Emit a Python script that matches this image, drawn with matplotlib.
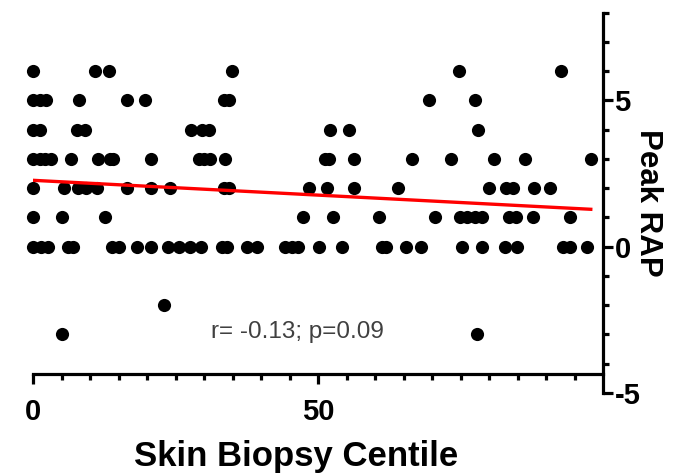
import numpy as np
import matplotlib
matplotlib.use("Agg")
import matplotlib.pyplot as plt
from matplotlib.ticker import FixedLocator

plt.rcParams['font.family'] = ['Liberation Sans', 'DejaVu Sans']
plt.rcParams['axes.unicode_minus'] = False

# points grouped by Peak RAP value (x = skin biopsy centile)
rap_6 = [0, 10.9, 13.2, 34.9, 74.6, 92.6]
rap_5 = [0, 1.2, 2.3, 8.1, 16.4, 19.6, 33.4, 34.4, 69.5, 77.4]
rap_4 = [0, 1.2, 7.6, 9.1, 27.7, 29.6, 30.8, 52.1, 55.3, 78.1]
rap_3 = [0, 1.2, 2.1, 3.1, 6.6, 11.3, 13.4, 14.0, 20.6, 29.0, 30.0, 31.0, 33.7,
         51.1, 51.8, 56.2, 66.4, 73.2, 80.9, 86.3, 97.8]
rap_2 = [0, 5.3, 7.9, 9.3, 11.2, 16.4, 20.6, 23.9, 33.4, 34.4, 48.3, 51.6, 56.2,
         64.0, 80.0, 83.0, 84.2, 87.8, 90.6]
rap_1 = [0, 5.0, 12.5, 47.4, 52.5, 60.6, 70.5, 74.8, 76.1, 77.5, 78.7, 83.4,
         84.6, 87.7, 94.1]
rap_0 = [0, 1.3, 2.6, 6.1, 7.0, 13.8, 15.0, 18.2, 20.6, 23.6, 25.5, 27.5, 29.4,
         33.1, 34.0, 37.5, 39.2, 44.2, 45.4, 46.5, 50.1, 54.2, 61.2, 61.8, 65.3,
         68.1, 75.2, 78.7, 82.8, 84.9, 93.0, 94.2, 97.1]
rap_m2 = [22.9]
rap_m3 = [5.1, 77.8]

groups = {6: rap_6, 5: rap_5, 4: rap_4, 3: rap_3, 2: rap_2, 1: rap_1,
          0: rap_0, -2: rap_m2, -3: rap_m3}

centile = []
rap = []
for val, xs in groups.items():
    centile += xs
    rap += [val] * len(xs)
centile = np.array(centile)
rap = np.array(rap)

# regression line as drawn
fit_x = [0, 97.8]
fit_y = [2.27, 1.28]

fig = plt.figure(figsize=(6.97, 4.74), dpi=100)
ax = fig.add_axes([0.0478, 0.1709, 0.8178, 0.8023])

ax.scatter(centile, rap, s=90, color='black', linewidths=0, clip_on=False, zorder=3)
ax.plot(fit_x, fit_y, color='red', lw=2.4, zorder=4)
ax.text(46.4, -2.93, "r= -0.13; p=0.09", ha='center', va='center',
        fontsize=17.5, color='#404040')

ax.set_xlim(0, 100)
ax.set_ylim(-5, 8)

ax.spines['left'].set_visible(False)
ax.spines['top'].set_visible(False)
ax.spines['bottom'].set_position(('data', -4.35))
ax.spines['bottom'].set_linewidth(2.3)
ax.spines['right'].set_linewidth(2.3)

ax.xaxis.set_major_locator(FixedLocator([0, 50]))
ax.xaxis.set_minor_locator(FixedLocator([v for v in range(5, 100, 5) if v != 50]))
ax.yaxis.set_major_locator(FixedLocator([-5, 0, 5]))
ax.yaxis.set_minor_locator(FixedLocator([v for v in range(-4, 9) if v not in (0, 5)]))

ax.yaxis.tick_right()
ax.yaxis.set_label_position('right')
ax.tick_params(axis='both', which='major', length=7, width=2.3, labelsize=21,
               direction='out')
ax.tick_params(axis='both', which='minor', length=4, width=2.3, direction='out')
ax.tick_params(axis='x', which='major', pad=10)
ax.tick_params(axis='y', which='major', pad=1)
for lab in ax.get_xticklabels() + ax.get_yticklabels():
    lab.set_fontweight('bold')

ax.set_xlabel("Skin Biopsy Centile", fontsize=25, fontweight='bold', va='center')
ax.xaxis.set_label_coords(0.461, -0.167)
ax.set_ylabel("Peak RAP", fontsize=22.5, fontweight='bold', rotation=270,
              labelpad=16)

fig.savefig("out.png", dpi=100)
